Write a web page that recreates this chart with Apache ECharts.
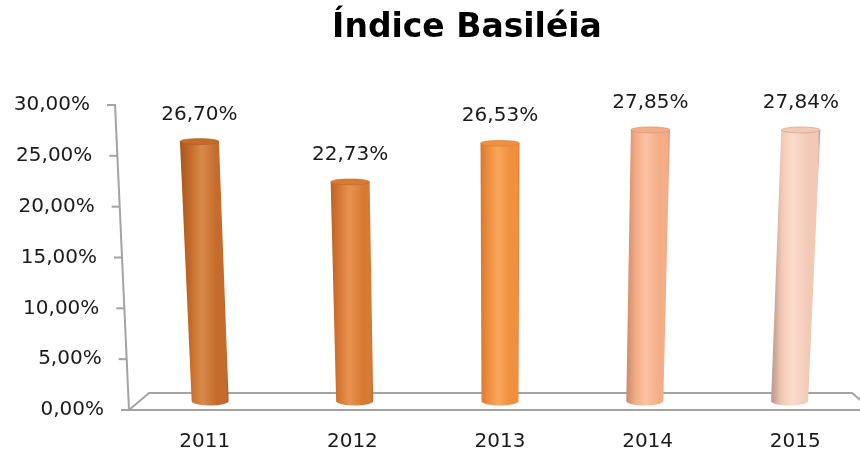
<!DOCTYPE html>
<html>
<head>
<meta charset="utf-8">
<title>Índice Basiléia</title>
<script src="https://cdn.jsdelivr.net/npm/echarts@6/dist/echarts.min.js"></script>
<style>
  html, body { margin: 0; padding: 0; background: #fff; }
  #chart { width: 860px; height: 454px; }
</style>
</head>
<body>
<div id="chart"></div>
<script>
// Capital adequacy ratio per year
const categories = ['2011', '2012', '2013', '2014', '2015'];
const basileia = [26.70, 22.73, 26.53, 27.85, 27.84];
const yTicks = [0, 5, 10, 15, 20, 25, 30];

// Shading for each cylinder: [edge, body, highlight]
const barPalette = [
  ['#a65820', '#c56b2b', '#d88a4b'],
  ['#b9642a', '#d87a34', '#e8924f'],
  ['#d27a34', '#f0903f', '#f8a75e'],
  ['#c98a6a', '#f4ad87', '#fac2a4'],
  ['#b8968a', '#f2c9b6', '#fcdccd']
];

const FONT = 'DejaVu Sans';
const TEXT_COLOR = '#1a1a1a';
const LINE_COLOR = '#a3a3a3';
const Y_MAX = 30;
const AXIS_LEAN = 14;   // how far the value axis leans left at its top

const fmtPct = v => v.toFixed(2).replace('.', ',') + '%';

// Rich styles that push higher tick labels further left, following the leaning axis
const yRich = {};
yTicks.forEach(t => {
  yRich['p' + t] = {
    fontFamily: FONT, fontSize: 20, color: TEXT_COLOR,
    padding: [0, AXIS_LEAN * t / Y_MAX, 0, 0]
  };
});

function ellipsePoints(cx, cy, rx, ry, from, to, n) {
  const pts = [];
  for (let i = 0; i <= n; i++) {
    const a = from + (to - from) * i / n;
    pts.push([cx + rx * Math.cos(a), cy + ry * Math.sin(a)]);
  }
  return pts;
}

// Floor outline, leaning value axis and its ticks
function renderFrame(params, api) {
  const cs = params.coordSys;
  const y0 = api.coord([0, 0])[1];
  const axisX = v => cs.x - 2 - AXIS_LEAN * v / Y_MAX;
  const depthX = 20, depthY = 17;
  const lineStyle = { stroke: LINE_COLOR, lineWidth: 2, fill: null };
  const children = [];
  const x0 = axisX(0);
  const xTop = axisX(Y_MAX);
  const yTop = api.coord([0, Y_MAX])[1];
  // front edge of floor
  children.push({ type: 'line', shape: { x1: x0 - 7, y1: y0, x2: cs.x + cs.width + 20, y2: y0 }, style: lineStyle });
  // left, back and right edges of floor
  const backRight = cs.x + cs.width - 17;
  children.push({
    type: 'polyline',
    shape: { points: [[x0, y0], [x0 + depthX, y0 - depthY], [backRight, y0 - depthY], [backRight + depthX, y0]] },
    style: lineStyle
  });
  // value axis
  children.push({ type: 'line', shape: { x1: x0, y1: y0, x2: xTop, y2: yTop - 1 }, style: lineStyle });
  yTicks.forEach(t => {
    const y = api.coord([0, t])[1];
    const x = axisX(t);
    children.push({ type: 'line', shape: { x1: x - 8, y1: y, x2: x, y2: y }, style: lineStyle });
  });
  return { type: 'group', children };
}

// One shaded cylinder per year, with its value written above
function renderCylinder(params, api) {
  const i = params.dataIndex;
  const cs = params.coordSys;
  const v = api.value(1);
  const top = api.coord([api.value(0), v]);
  const y0 = api.coord([api.value(0), 0])[1];
  const cx = top[0];
  const mid = cs.x + cs.width / 2;
  const yTopC = top[1] + 3;
  const yBotC = y0 - 9;
  const h = yBotC - yTopC;
  const lean = (cx - mid) * 0.00014 * h;
  const cxT = cx + lean / 2;
  const cxB = cx - lean / 2;
  const rxT = 19.5, rxB = 18.5, ryT = 3, ryB = 4.5;
  const [edge, body, light] = barPalette[i];

  const bodyPts = [[cxT - rxT, yTopC]]
    .concat(ellipsePoints(cxB, yBotC, rxB, ryB, Math.PI, 0, 24))
    .concat([[cxT + rxT, yTopC]]);

  const grad = new echarts.graphic.LinearGradient(0, 0, 1, 0, [
    { offset: 0, color: edge },
    { offset: 0.22, color: body },
    { offset: 0.45, color: light },
    { offset: 0.75, color: body },
    { offset: 0.95, color: body },
    { offset: 1, color: edge }
  ]);

  return {
    type: 'group',
    children: [
      { type: 'polygon', shape: { points: bodyPts }, style: { fill: grad } },
      {
        type: 'polygon',
        shape: { points: ellipsePoints(cxT, yTopC, rxT, ryT, 0, Math.PI * 2, 36) },
        style: { fill: body, stroke: edge, lineWidth: 0.5 }
      },
      {
        type: 'text',
        style: {
          text: fmtPct(v), x: cxT, y: top[1] - 24,
          align: 'center', verticalAlign: 'middle',
          fontFamily: FONT, fontSize: 20, fill: TEXT_COLOR
        }
      }
    ]
  };
}

const chart = echarts.init(document.getElementById('chart'), null, { renderer: 'canvas' });
chart.setOption({
  animation: false,
  backgroundColor: '#ffffff',
  title: {
    text: 'Índice Basiléia',
    left: 462,
    top: 7,
    textAlign: 'center',
    textStyle: { fontFamily: FONT, fontSize: 33, fontWeight: 'bold', color: '#000' }
  },
  grid: {
    left: 131, width: 738, top: 105, height: 305,
    containLabel: false,
    outerBoundsMode: 'none'
  },
  xAxis: {
    type: 'category',
    data: categories,
    axisLine: { show: false },
    axisTick: { show: false },
    axisLabel: { fontFamily: FONT, fontSize: 20, color: TEXT_COLOR, margin: 22 }
  },
  yAxis: {
    type: 'value',
    min: 0,
    max: Y_MAX,
    interval: 5,
    axisLine: { show: false },
    axisTick: { show: false },
    splitLine: { show: false },
    axisLabel: {
      margin: 27,
      formatter: v => '{p' + v + '|' + fmtPct(v) + '}',
      rich: yRich
    }
  },
  series: [
    {
      type: 'custom',
      name: 'frame',
      renderItem: renderFrame,
      data: [[0, 0]],
      encode: { x: 0, y: 1 },
      silent: true,
      z: 1
    },
    {
      type: 'custom',
      name: 'Índice Basiléia',
      renderItem: renderCylinder,
      data: categories.map((c, i) => [i, basileia[i]]),
      encode: { x: 0, y: 1 },
      z: 2
    }
  ]
});
</script>
</body>
</html>
